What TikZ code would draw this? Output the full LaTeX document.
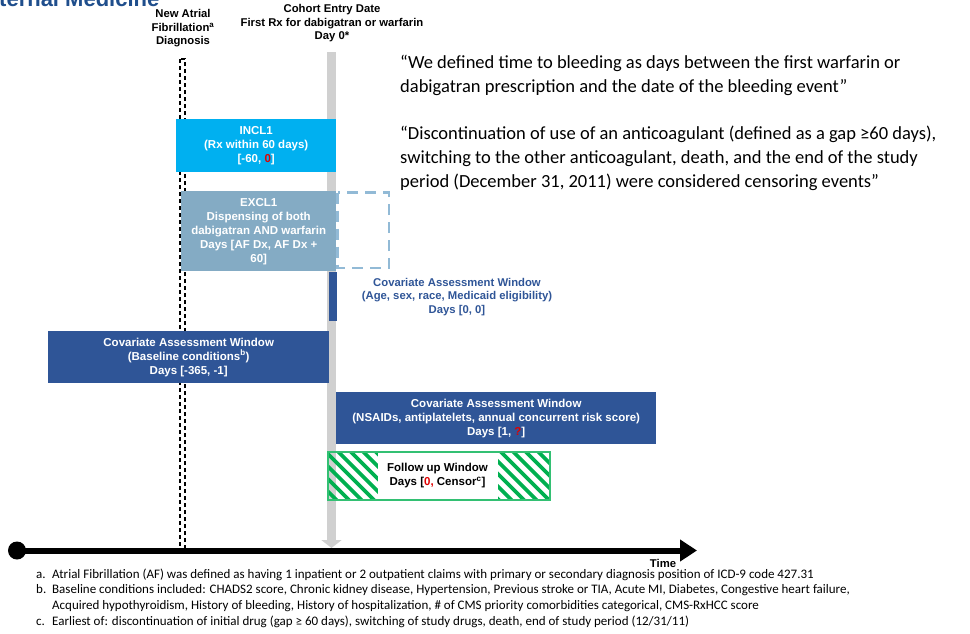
\documentclass[tikz,border=0pt]{standalone}
\usepackage{fontspec}
\setmainfont{Liberation Sans}
\newfontfamily\calibri{Carlito}
\usetikzlibrary{arrows.meta}
\definecolor{inclblue}{HTML}{00B0F0}
\definecolor{exclblue}{HTML}{84ABC4}
\definecolor{covblue}{HTML}{2F5597}
\definecolor{dashblue}{HTML}{92BAD6}
\definecolor{fugreen}{HTML}{00B050}
\definecolor{daygray}{HTML}{D0D0D0}
\definecolor{hotred}{HTML}{E00000}
\definecolor{headblue}{HTML}{1F4E8C}
\begin{document}
\begin{tikzpicture}[x=1pt,y=-1pt,
  window/.style={inner sep=0pt, anchor=north west, draw=none,
    font=\bfseries\fontsize{11.5}{14}\selectfont, align=center, text=white},
  heading/.style={font=\bfseries\fontsize{11.3}{13.5}\selectfont, align=center, inner sep=0pt},
  quote/.style={font=\calibri\fontsize{18.5}{24}\selectfont, align=left, inner sep=0pt, anchor=north west},
  hatch/.style={fugreen, line width=3.6pt},
]
\useasboundingbox (0,0) rectangle (970,633);

% journal banner, cut off by the page edge
\node[anchor=base west, inner sep=0pt, text=headblue,
  font=\bfseries\fontsize{22}{22}\selectfont] (journal) at (-1,6.5) {ternal Medicine};

% column headings
\node[heading] (afdx) at (183,28.5) {New Atrial\\Fibrillation\textsuperscript{a}\\Diagnosis};
\node[heading] (entry) at (332,23.5) {Cohort Entry Date\\First Rx for dabigatran or warfarin\\Day 0*};

% AF diagnosis marker (double dashed line)
\coordinate (aftop) at (180,59);
\coordinate (afbot) at (185,550);
\draw[black, line width=1.1pt, dash pattern=on 4pt off 3pt] (aftop) rectangle (afbot);

% day 0 marker (grey arrow)
\coordinate (day0) at (331.5,52);
\coordinate (day0end) at (331.5,548);
\draw[daygray, line width=9pt, -{Triangle[width=20pt,length=8pt]}] (day0) -- (day0end);

% time axis
\node[circle, fill=black, inner sep=0pt, minimum size=18pt] (origin) at (17,550.5) {};
\coordinate (timeend) at (697,550.5);
\draw[black, line width=6pt, -{Triangle[width=21pt,length=17pt]}] (origin.center) -- (timeend);
\node[font=\bfseries\fontsize{11.3}{12}\selectfont, inner sep=0pt] (time) at (663,563.5) {Time};

% inclusion / exclusion windows
\node[window, fill=inclblue, minimum width=160pt, minimum height=53pt] (incl) at (176,119)
  {INCL1\\(Rx within 60 days)\\{}[-60, {\color{hotred}0}]};
\node[window, fill=exclblue, minimum width=155pt, minimum height=80pt] (excl) at (181,191)
  {EXCL1\\Dispensing of both\\dabigatran AND warfarin\\Days [AF Dx, AF Dx +\\60]};
\draw[dashblue, line width=2.6pt, dash pattern=on 11pt off 7pt] (337.5,192.5) rectangle (389,268);
\coordinate (exclext) at (389,268);

% covariate windows
\node[window, fill=covblue, minimum width=7.5pt, minimum height=49pt] (agebar) at (329,272) {};
\node[heading, text=covblue] (agetext) at (457,297)
  {Covariate Assessment Window\\(Age, sex, race, Medicaid eligibility)\\Days [0, 0]};
\node[window, fill=covblue, minimum width=281pt, minimum height=52pt] (baseline) at (48,331)
  {Covariate Assessment Window\\(Baseline conditions\textsuperscript{b})\\Days [-365, -1]};
\node[window, fill=covblue, minimum width=320pt, minimum height=52pt] (nsaid) at (336,392)
  {Covariate Assessment Window\\(NSAIDs, antiplatelets, annual concurrent risk score)\\Days [1, {\color{hotred}?}]};

% follow-up window with hatching
\begin{scope}
  \clip (328,452) rectangle (550,500);
  \foreach \s in {270,282.5,...,560} { \draw[hatch] (\s,446) -- ++(60,60); }
\end{scope}
\node[window, fill=white, text=black, minimum width=120pt, minimum height=47pt, anchor=center]
  (follow) at (437.5,476) {Follow up Window\\Days [{\color{hotred}0,} Censor\textsuperscript{c}]};
\draw[fugreen!80, line width=1.2pt] (328,452) rectangle (550,500);

% quoted definitions
\node[quote] (q1) at (400,55)
  {“We defined time to bleeding as days between the first warfarin or\\
   dabigatran prescription and the date of the bleeding event”};
\node[quote] (q2) at (400,126)
  {“Discontinuation of use of an anticoagulant (defined as a gap ≥60 days),\\
   switching to the other anticoagulant, death, and the end of the study\\
   period (December 31, 2011) were considered censoring events”};

% footnotes
\node[anchor=north west, inner sep=0pt, align=left,
  font=\calibri\fontsize{13}{15.6}\selectfont] (notes) at (36,568.5)
  {\makebox[16pt][l]{a.}Atrial Fibrillation (AF) was defined as having 1 inpatient or 2 outpatient claims with primary or secondary diagnosis position of ICD-9 code 427.31\\
   \makebox[16pt][l]{b.}Baseline conditions included: CHADS2 score, Chronic kidney disease, Hypertension, Previous stroke or TIA, Acute MI, Diabetes, Congestive heart failure,\\
   \hspace*{16pt}Acquired hypothyroidism, History of bleeding, History of hospitalization, \# of CMS priority comorbidities categorical, CMS-RxHCC score\\
   \makebox[16pt][l]{c.}Earliest of: discontinuation of initial drug (gap ≥ 60 days), switching of study drugs, death, end of study period (12/31/11)};
\end{tikzpicture}
\end{document}
